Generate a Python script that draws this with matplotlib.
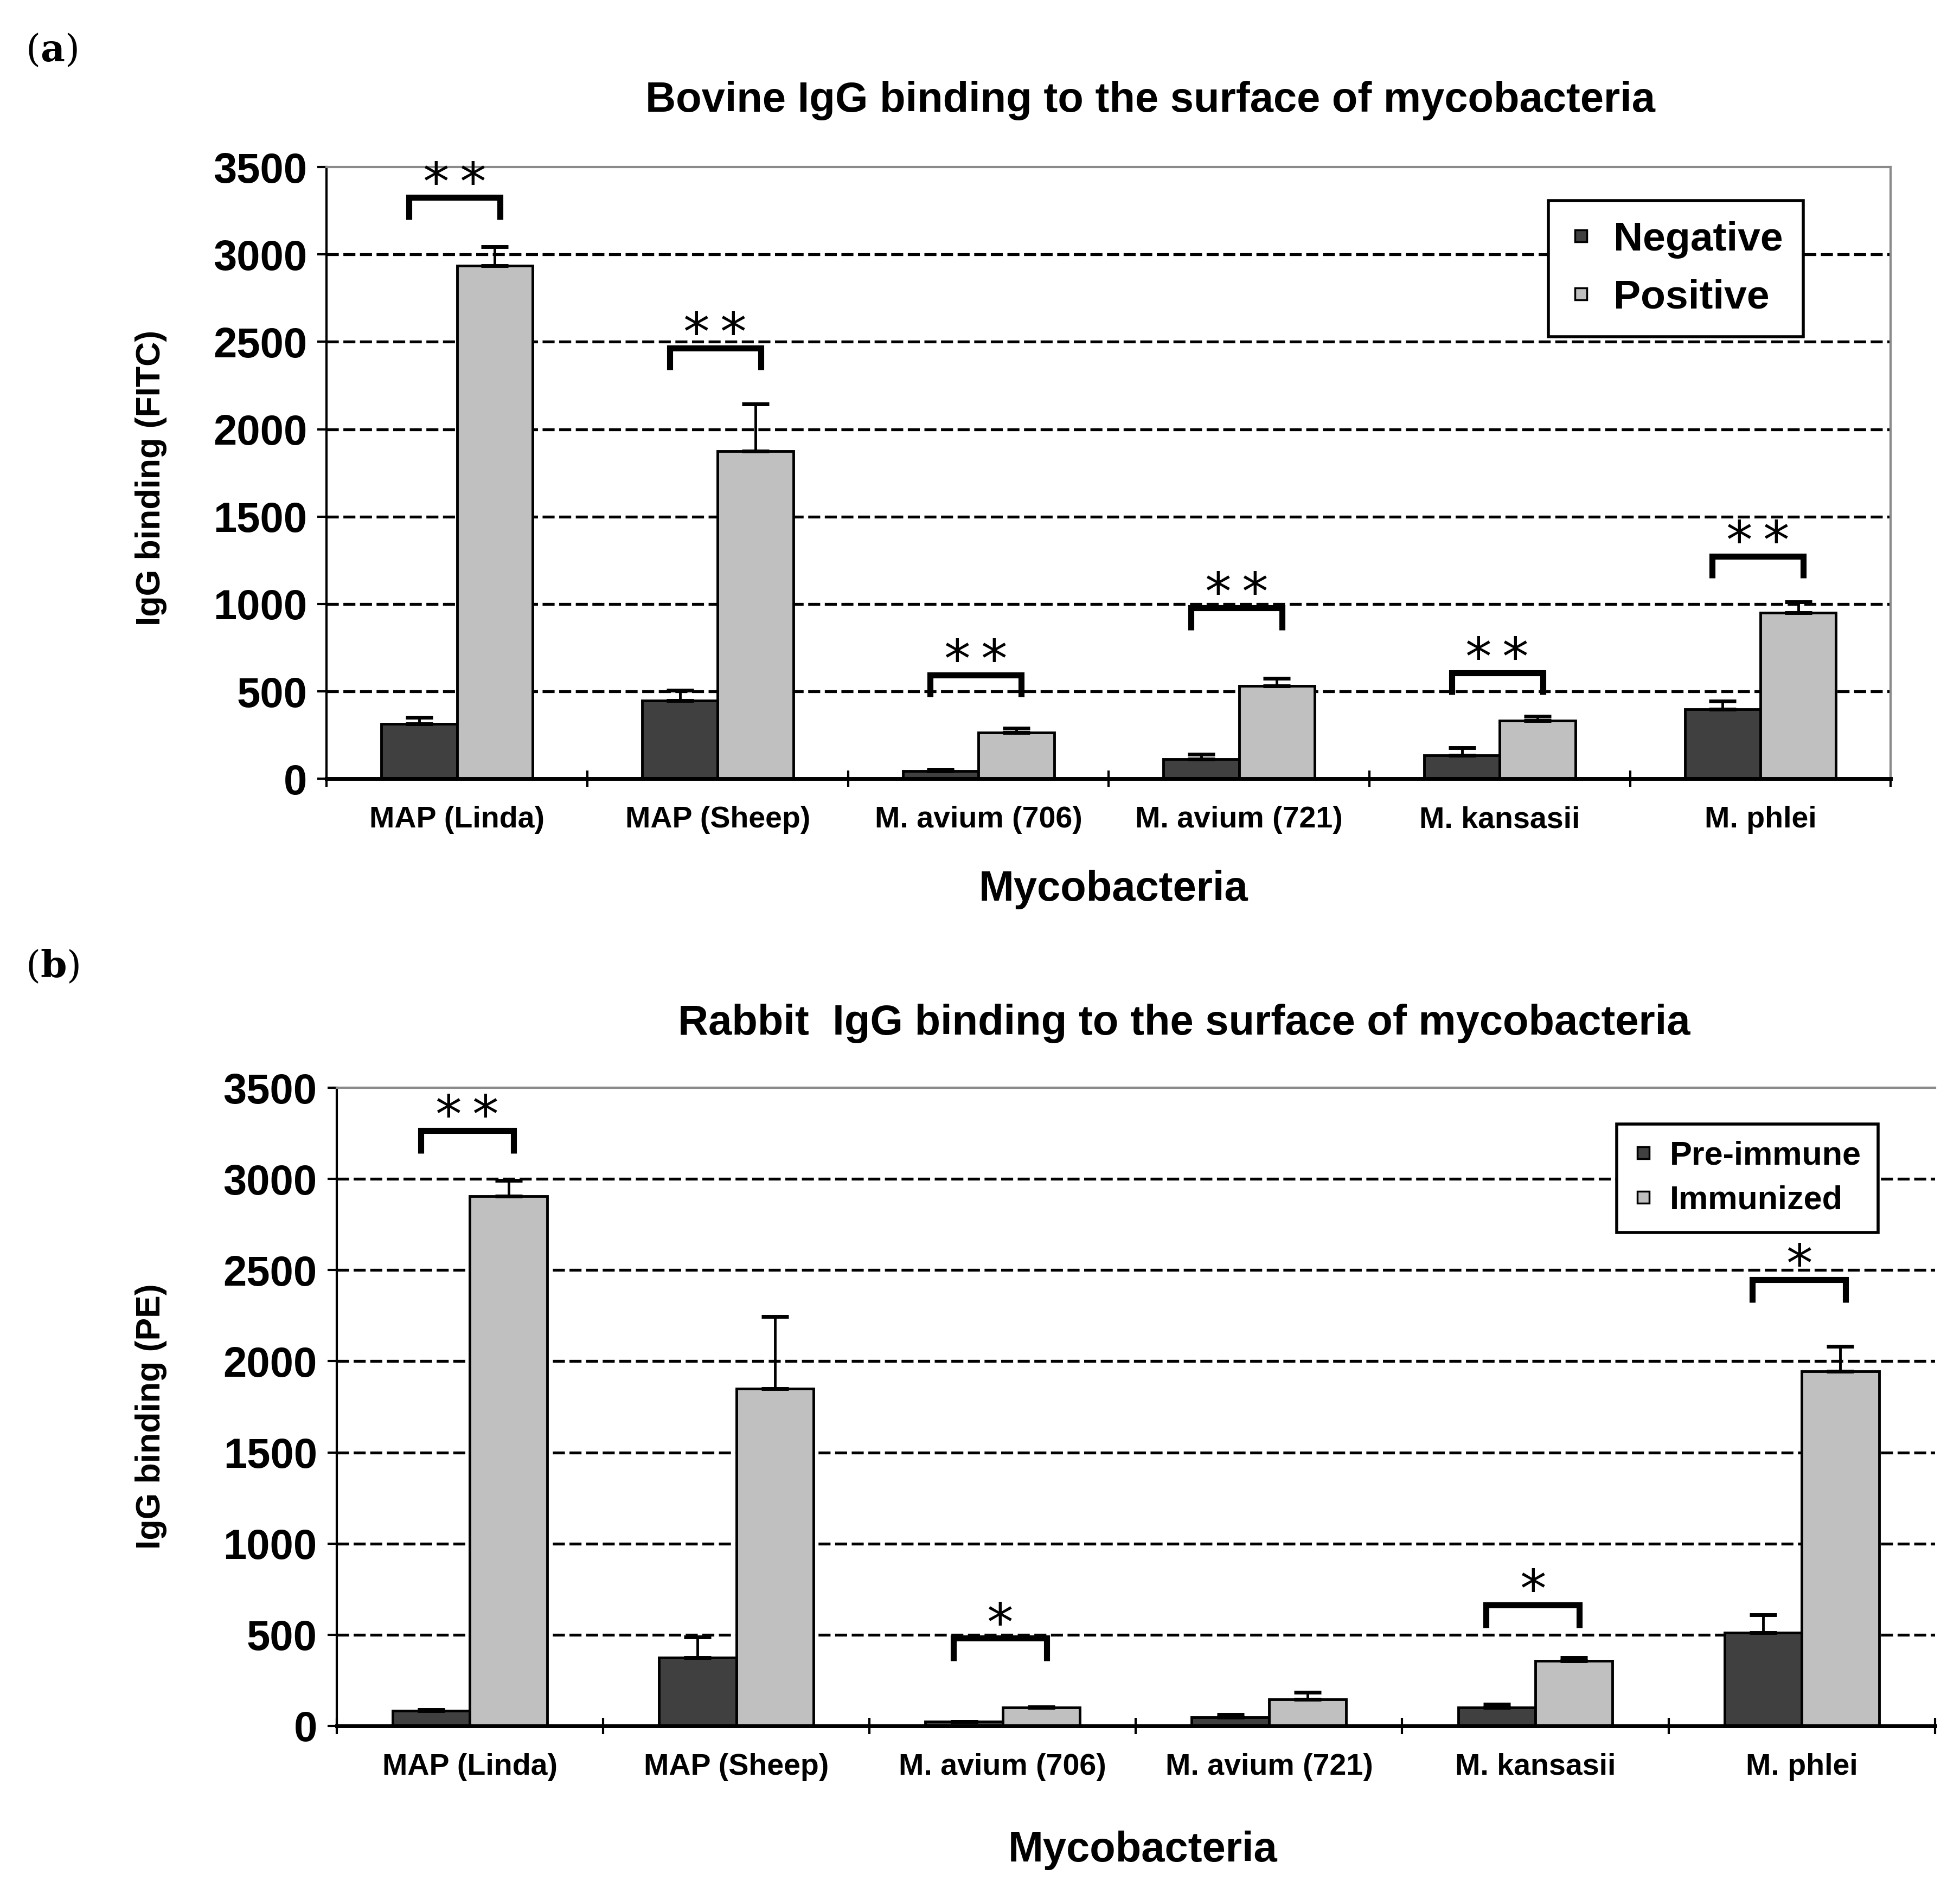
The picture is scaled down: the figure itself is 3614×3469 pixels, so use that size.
import numpy as np
import matplotlib
matplotlib.use('Agg')
import matplotlib.pyplot as plt
from matplotlib.lines import Line2D

plt.rcParams['font.family'] = ['Liberation Sans', 'DejaVu Sans']
plt.rcParams['mathtext.fontset'] = 'dejavuserif'

cats = ['MAP (Linda)', 'MAP (Sheep)', 'M. avium (706)', 'M. avium (721)', 'M. kansasii', 'M. phlei']

# panel (a): bovine
neg_a = [314, 447, 45, 112, 133, 398]
neg_a_err = [38, 59, 7, 28, 45, 45]
pos_a = [2935, 1874, 265, 530, 332, 949]
pos_a_err = [108, 269, 25, 46, 24, 63]
sig_a = ['*\u2009*'] * 6
sig_a_y = [3325, 2464, 593, 977, 607, 1274]

# panel (b): rabbit
pre_b = [82, 373, 23, 46, 101, 510]
pre_b_err = [6, 114, 0, 16, 17, 98]
imm_b = [2905, 1850, 101, 144, 356, 1944]
imm_b_err = [88, 395, 4, 39, 17, 138]
sig_b = ['*\u2009*', '', '*', '', '*', '*']
sig_b_y = [3265, None, 480, None, 663, 2448]

yticks = [0, 500, 1000, 1500, 2000, 2500, 3000, 3500]

dark = '#404040'
light = '#c0c0c0'
w = 0.29


def draw_panel(ax, lo, lo_err, hi, hi_err, sig, sig_y, labels, right_spine, leg_fs, leg_loc, lspace):
    x = np.arange(len(cats))
    for v in yticks[1:-1]:
        ax.axhline(v, color='black', lw=3.8, linestyle=(0, (4.2, 1.6)), zorder=0)
    ax.bar(x - w / 2, lo, w, color=dark, edgecolor='black', lw=3.5, zorder=2)
    ax.bar(x + w / 2, hi, w, color=light, edgecolor='black', lw=3.5, zorder=2)
    ax.errorbar(x - w / 2, lo, yerr=[np.zeros(len(lo)), lo_err], fmt='none', ecolor='black',
                elinewidth=3.5, capsize=18, capthick=5, zorder=3)
    ax.errorbar(x + w / 2, hi, yerr=[np.zeros(len(hi)), hi_err], fmt='none', ecolor='black',
                elinewidth=3.5, capsize=18, capthick=5, zorder=3)

    # significance brackets
    for i, (s, yy) in enumerate(zip(sig, sig_y)):
        if not s:
            continue
        x1, x2 = i - 0.185, i + 0.165
        ax.plot([x1, x1, x2, x2], [yy - 125, yy, yy, yy - 125], color='black', lw=8,
                solid_joinstyle='miter', solid_capstyle='butt', zorder=4)
        ax.annotate(s, ((x1 + x2) / 2, yy), xytext=(0, -3), textcoords='offset points',
                    ha='center', va='baseline', fontsize=70, family='DejaVu Sans', zorder=4)

    ax.set_xlim(-0.5, len(cats) - 0.5)
    ax.set_ylim(0, 3500)
    ax.set_yticks(yticks)
    ax.set_yticklabels([str(v) for v in yticks], fontsize=56, fontweight='bold')
    ax.set_xticks(x)
    ax.set_xticklabels(cats, fontsize=40, fontweight='bold')
    ax.set_xticks(np.arange(-0.5, len(cats)), minor=True)
    ax.tick_params(axis='x', which='major', length=0, pad=36)
    ax.tick_params(axis='x', which='minor', length=22, width=3, direction='inout')
    ax.tick_params(axis='y', length=12, width=3, pad=14)

    ax.spines['left'].set_linewidth(3)
    ax.spines['bottom'].set_linewidth(5)
    ax.spines['top'].set_color('#8a8a8a')
    ax.spines['top'].set_linewidth(3)
    if right_spine:
        ax.spines['right'].set_color('#8a8a8a')
        ax.spines['right'].set_linewidth(3)
    else:
        ax.spines['right'].set_visible(False)

    handles = [Line2D([], [], marker='s', ls='none', markersize=16, markerfacecolor=dark,
                      markeredgecolor='black', markeredgewidth=2.5),
               Line2D([], [], marker='s', ls='none', markersize=16, markerfacecolor=light,
                      markeredgecolor='black', markeredgewidth=2.5)]
    leg = ax.legend(handles, labels, loc='upper left', bbox_to_anchor=leg_loc, borderaxespad=0,
                    fancybox=False, framealpha=1, edgecolor='black', handlelength=0.6,
                    handletextpad=0.5, labelspacing=lspace, borderpad=0.5,
                    prop={'size': leg_fs, 'weight': 'bold'})
    leg.get_frame().set_linewidth(4)
    leg.set_zorder(5)


fig = plt.figure(figsize=(36.14, 34.69), dpi=100)

ax1 = fig.add_axes([0.1667, 0.586, 0.798, 0.3252])
draw_panel(ax1, neg_a, neg_a_err, pos_a, pos_a_err, sig_a, sig_a_y,
           ['Negative', 'Positive'], True, 54, (0.781, 0.945), 0.5)

ax2 = fig.add_axes([0.1718, 0.0825, 0.8154, 0.3392])
draw_panel(ax2, pre_b, pre_b_err, imm_b, imm_b_err, sig_b, sig_b_y,
           ['Pre-immune', 'Immunized'], False, 44, (0.801, 0.943), 0.4)

fig.text(0.587, 0.9466, 'Bovine IgG binding to the surface of mycobacteria', ha='center', va='center',
         fontsize=56, fontweight='bold')
fig.text(0.604, 0.4558, 'Rabbit  IgG binding to the surface of mycobacteria', ha='center', va='center',
         fontsize=56, fontweight='bold')
fig.text(0.568, 0.527, 'Mycobacteria', ha='center', va='center', fontsize=56, fontweight='bold')
fig.text(0.583, 0.0164, 'Mycobacteria', ha='center', va='center', fontsize=56, fontweight='bold')
fig.text(0.077, 0.746, 'IgG binding (FITC)', ha='center', va='center', rotation=90,
         fontsize=45, fontweight='bold')
fig.text(0.077, 0.247, 'IgG binding (PE)', ha='center', va='center', rotation=90,
         fontsize=45, fontweight='bold')

fig.text(0.013, 0.973, r'($\mathbf{a}$)', ha='left', va='center', fontsize=50, family='DejaVu Serif')
fig.text(0.013, 0.486, r'($\mathbf{b}$)', ha='left', va='center', fontsize=50, family='DejaVu Serif')

fig.savefig('out.png', dpi=100)
